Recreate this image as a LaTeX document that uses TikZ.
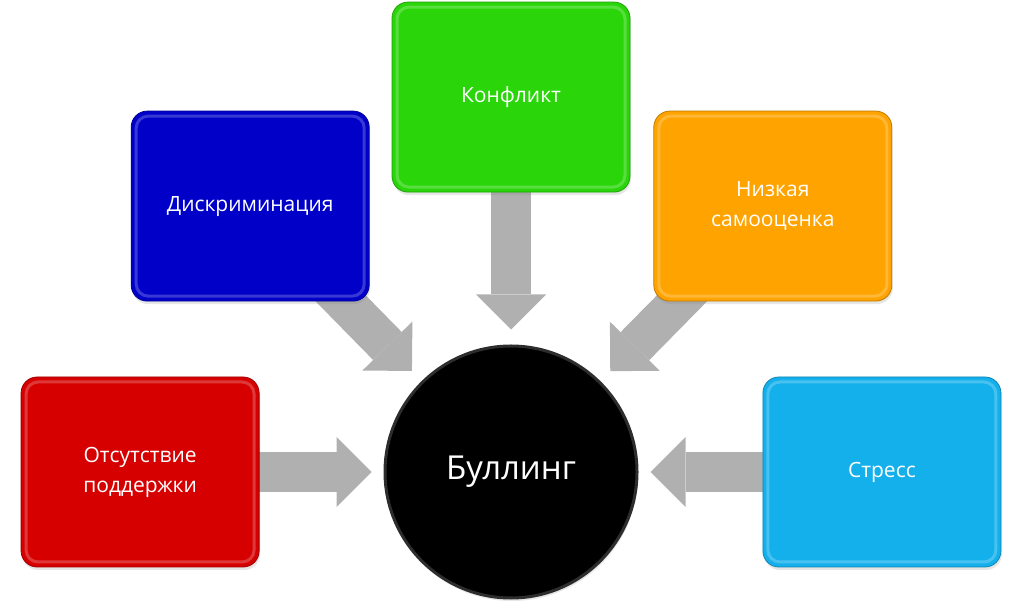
\documentclass[tikz,border=0pt]{standalone}
\usepackage{fontspec}
\setmainfont{Open Sans}
\usetikzlibrary{shapes.geometric, arrows.meta, positioning, shadows, backgrounds}

\definecolor{krasnyj}{RGB}{214,0,0}
\definecolor{sinij}{RGB}{0,0,200}
\definecolor{zelenyj}{RGB}{42,214,10}
\definecolor{oranzhevyj}{RGB}{255,163,0}
\definecolor{goluboj}{RGB}{20,176,236}
\definecolor{seryj}{RGB}{176,176,176}

\begin{document}
\begin{tikzpicture}[
      x=1pt,
      y=1pt,
      box/.style={
          rectangle,
          draw=#1!75!black,
          line width=0.8pt,
          rounded corners=16pt,
          fill=#1,
          align=center,
          text=white,
          minimum width=238pt,
          minimum height=190pt,
          font=\fontsize{21}{30}\selectfont,
          drop shadow={opacity=0.2, shadow xshift=1pt, shadow yshift=-3pt},
          path picture={
              \draw[white, opacity=0.22, line width=3pt, rounded corners=12pt]
                ([shift={(5pt,5pt)}]path picture bounding box.south west) rectangle
                ([shift={(-5pt,-5pt)}]path picture bounding box.north east);
            }
        },
      hub/.style={
          circle,
          draw=gray!35!black,
          line width=3pt,
          fill=black,
          text=white,
          inner sep=0pt,
          minimum size=252pt,
          font=\fontsize{33}{40}\selectfont,
          drop shadow={opacity=0.2, shadow xshift=1pt, shadow yshift=-3pt}
        },
      blokarrow/.style={
          draw=seryj,
          line width=40pt,
          -{Triangle[width=70pt, length=35pt, line width=0pt]},
          shorten >=12pt
        }
    ]

    \useasboundingbox (0,0) rectangle (1024,607);

    % Nodes
    \node[hub] (bulling) at (511,135) {Буллинг};
    \node[box=krasnyj, left=124pt of bulling] (podderzhka) {Отсутствие\\поддержки};
    \node[box=goluboj, right=124pt of bulling] (stress) {Стресс};
    \node[box=zelenyj, above=152pt of bulling] (konflikt) {Конфликт};
    \node[box=sinij, left=22pt of konflikt, yshift=-109pt] (diskrim) {Дискриминация};
    \node[box=oranzhevyj, right=23pt of konflikt, yshift=-109pt] (samoocenka) {Низкая\\самооценка};

    % Arrows
    \begin{scope}[on background layer]
      \draw[blokarrow] (podderzhka.center) -- (bulling);
      \draw[blokarrow] (stress.center) -- (bulling);
      \draw[blokarrow, shorten >=15pt] (konflikt.center) -- (bulling);
      \draw[blokarrow, shorten >=14pt] (diskrim.center) -- (bulling);
      \draw[blokarrow, shorten >=14pt] (samoocenka.center) -- (bulling);
    \end{scope}

  \end{tikzpicture}
\end{document}
